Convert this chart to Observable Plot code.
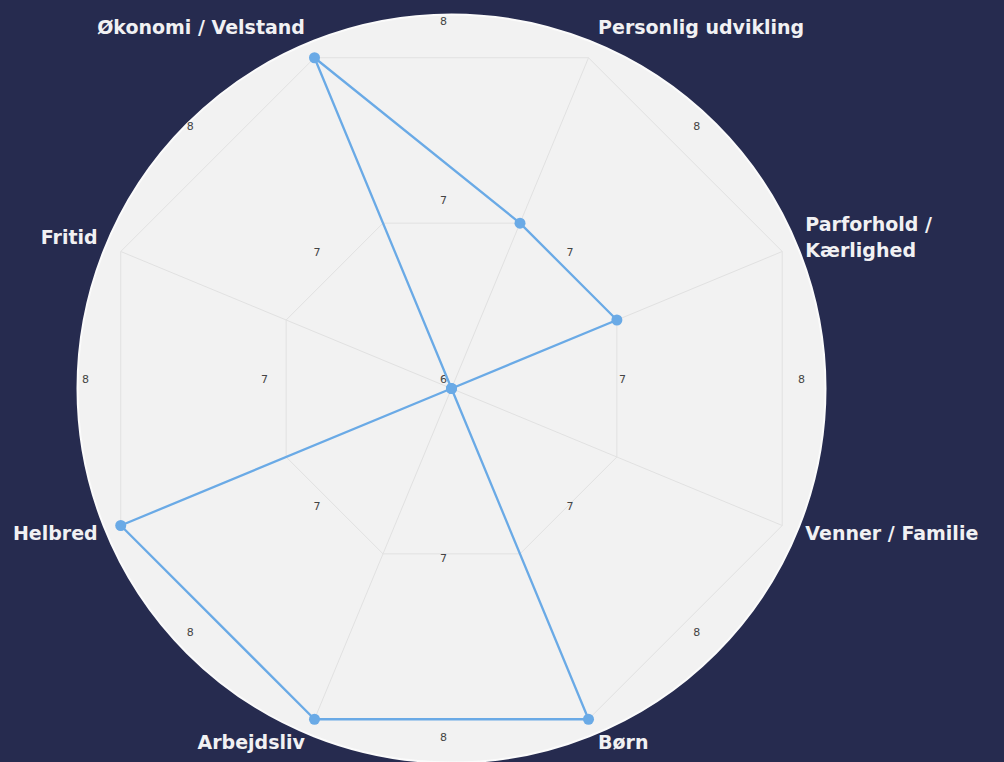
<!DOCTYPE html>
<html>
<head>
<meta charset="utf-8">
<script src="https://cdn.jsdelivr.net/npm/d3@7"></script>
<script src="https://cdn.jsdelivr.net/npm/@observablehq/plot@0.6"></script>
<style>
  html, body { margin: 0; padding: 0; background: #262b4f; }
  #chart { width: 1004px; height: 762px; overflow: hidden; }
</style>
</head>
<body>
<div id="chart"></div>
<script>
// ---- data ----
const categories = ["Økonomi / Velstand", "Personlig udvikling", "Parforhold /\nKærlighed", "Venner / Familie", "Børn", "Arbejdsliv", "Helbred", "Fritid"];
const values = [8, 7, 7, 6, 8, 8, 8, 6];
const gridLevels = [7, 8];
const tickValues = [6, 7, 8];
const tickLabels = ["6", "7", "8"];

// ---- polar helpers ----
const vMin = 6, vMax = 8;
const startAngle = -22.5;               // first category direction (degrees, clockwise from up)
const n = categories.length;
const step = 360 / n;
const rad = d => d * Math.PI / 180;
const rScale = d3.scaleLinear([vMin, vMax], [0, 1]);
const catAngle = i => rad(startAngle + i * step);
const px = (v, a) => rScale(v) * Math.sin(a);
const py = (v, a) => rScale(v) * Math.cos(a);
const outerPx = 358;                    // pixels per radial unit
const labelGap = 25 / outerPx;

const series = categories.map((c, i) => ({category: c, value: values[i], angle: catAngle(i)}));
const seriesClosed = [...series, series[0]];
const grid = gridLevels.flatMap(level => d3.range(n + 1).map(i => ({level, angle: catAngle(i % n)})));
const spokes = categories.map((c, i) => ({angle: catAngle(i)}));
const ticks = tickValues.flatMap((v, j) => v === vMin
  ? [{v, label: tickLabels[j], angle: 0}]
  : d3.range(n).map(k => ({v, label: tickLabels[j], angle: rad(k * step)})));
const pole = [{v: vMin}];

const labelFont = "'DejaVu Sans', Verdana, sans-serif";
const seriesColor = "#6aaae6";

const labelMarks = series.map(d => Plot.text([d], {
  x: e => (1 + labelGap) * Math.sin(e.angle),
  y: e => (1 + labelGap) * Math.cos(e.angle),
  text: "category",
  textAnchor: Math.sin(d.angle) < 0 ? "end" : "start",
  dy: -5 - 4 * Math.cos(d.angle),
  fill: "#f1f1f3",
  fontSize: 19,
  fontWeight: "bold",
  fontFamily: labelFont,
  lineHeight: 1.37
}));

const chart = Plot.plot({
  width: 1004,
  height: 762,
  x: {domain: [-1, 1], range: [451 - outerPx, 451 + outerPx], axis: null},
  y: {domain: [-1, 1], range: [388 + outerPx, 388 - outerPx], axis: null},
  style: {background: "#262b4f", overflow: "visible"},
  marks: [
    Plot.dot(pole, {x: d => px(d.v, 0), y: d => py(d.v, 0), r: 374, fill: "#f2f2f2", stroke: "#fbfbfb", strokeWidth: 2}),
    Plot.line(grid, {x: d => px(d.level, d.angle), y: d => py(d.level, d.angle), z: "level", stroke: "#e1e1e1", strokeWidth: 1}),
    Plot.link(spokes, {
      x1: () => 0, y1: () => 0,
      x2: d => px(vMax, d.angle), y2: d => py(vMax, d.angle),
      stroke: "#e1e1e1", strokeWidth: 1
    }),
    Plot.text(ticks, {
      x: d => px(d.v, d.angle), y: d => py(d.v, d.angle), text: "label",
      dx: -8, dy: -9, fontSize: 11, fill: "#444", fontFamily: labelFont
    }),
    Plot.line(seriesClosed, {x: d => px(d.value, d.angle), y: d => py(d.value, d.angle), stroke: seriesColor, strokeWidth: 2.3}),
    Plot.dot(series, {x: d => px(d.value, d.angle), y: d => py(d.value, d.angle), r: 5.5, fill: seriesColor}),
    ...labelMarks
  ]
});

document.getElementById("chart").appendChild(chart);
</script>
</body>
</html>
